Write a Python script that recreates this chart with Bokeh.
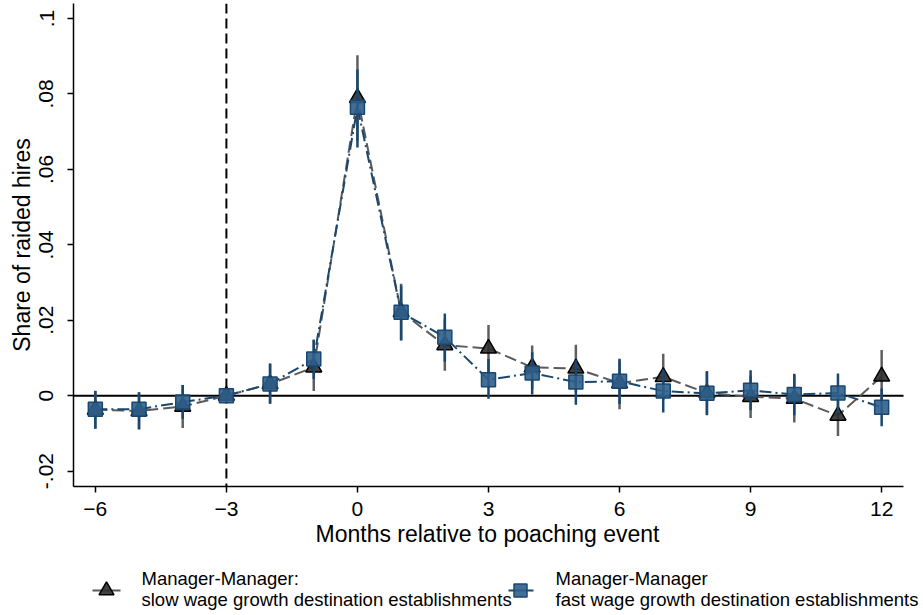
from bokeh.plotting import figure
from bokeh.models import Span, FixedTicker, Range1d, Label, Title
from bokeh.layouts import column
from bokeh.embed import file_html
from bokeh.resources import INLINE

# ---------------- data ----------------
months = [-6, -5, -4, -3, -2, -1, 0, 1, 2, 3, 4, 5, 6, 7, 8, 9, 10, 11, 12]

slow_est = [-0.0037, -0.0041, -0.0029, 0.0, 0.0031, 0.0075, 0.0790, 0.0222, 0.0134, 0.0125,
            0.0075, 0.0072, 0.0033, 0.0050, 0.0007, -0.0003, -0.0008, -0.0053, 0.0051]
slow_lo = [-0.0087, -0.0090, -0.0086, 0.0, -0.0022, 0.0012, 0.0676, 0.0147, 0.0066, 0.0062,
           0.0017, 0.0009, -0.0036, -0.0011, -0.0051, -0.0059, -0.0071, -0.0107, -0.0019]
slow_hi = [0.0013, 0.0008, 0.0028, 0.0, 0.0086, 0.0148, 0.0903, 0.0297, 0.0202, 0.0187,
           0.0133, 0.0135, 0.0093, 0.0111, 0.0065, 0.0053, 0.0055, 0.0001, 0.0121]

fast_est = [-0.0036, -0.0036, -0.0017, 0.0, 0.0031, 0.0097, 0.0765, 0.0221, 0.0155, 0.0042,
            0.0060, 0.0036, 0.0038, 0.0012, 0.0006, 0.0014, 0.0003, 0.0007, -0.0031]
fast_lo = [-0.0088, -0.0089, -0.0062, 0.0, -0.0020, 0.0044, 0.0658, 0.0146, 0.0090, -0.0008,
           0.0003, -0.0024, -0.0022, -0.0045, -0.0052, -0.0039, -0.0052, -0.0045, -0.0081]
fast_hi = [0.0012, 0.0009, 0.0028, 0.0, 0.0084, 0.0148, 0.0865, 0.0292, 0.0218, 0.0097,
           0.0115, 0.0094, 0.0098, 0.0069, 0.0064, 0.0067, 0.0058, 0.0059, 0.0019]

x_ticks = [-6, -3, 0, 3, 6, 9, 12]
y_ticks = [-0.02, 0.0, 0.02, 0.04, 0.06, 0.08, 0.1]
y_tick_labels = ["-.02", "0", ".02", ".04", ".06", ".08", ".1"]

event_month = -3

legend_line1 = ["Manager-Manager:", "Manager-Manager"]
legend_line2 = ["slow wage growth destination establishments",
                "fast wage growth destination establishments"]

x_title = "Months relative to poaching event"
y_title = "Share of raided hires"

# ---------------- style ----------------
FONT = "Liberation Sans"
GRAY_LINE = "#5a5a5a"
GRAY_CI = "#5f5f5f"
TRI_FILL = "#2e2e2e"
BLUE = "#1a476f"
SQ_FILL = "#2f5f8c"

W = 923
X_LO, X_HI = -6.5, 12.5          # extent of the drawn x axis
X_VIEW_HI = 12.958                # frame runs on to the canvas edge (room for legend text)

p = figure(width=W, height=555,
           x_range=Range1d(X_LO, X_VIEW_HI), y_range=Range1d(-0.0241, 0.1040),
           output_backend="svg", toolbar_location=None,
           min_border_left=73, min_border_right=0, min_border_top=3, min_border_bottom=69)
p.outline_line_color = None
p.grid.visible = False
p.background_fill_color = "white"
p.border_fill_color = "white"

# reference lines
p.segment(x0=[X_LO], y0=[0], x1=[X_HI], y1=[0], line_color="black", line_width=2, level="underlay")
p.add_layout(Span(location=event_month, dimension="height", line_color="black", line_width=2,
                  line_dash="10 5", level="underlay"))

# slow series
p.segment(x0=months, y0=slow_lo, x1=months, y1=slow_hi, line_color=GRAY_CI, line_width=2.5)
p.line(months, slow_est, line_color=GRAY_LINE, line_width=2, line_dash="12 5")
p.scatter(months, slow_est, marker="triangle", size=16, fill_color=TRI_FILL, fill_alpha=0.9,
          line_color="black", line_width=1.5)

# fast series
p.segment(x0=months, y0=fast_lo, x1=months, y1=fast_hi, line_color=BLUE, line_width=2.5)
p.line(months, fast_est, line_color=BLUE, line_width=2, line_dash="12 4 2 4")
p.scatter(months, fast_est, marker="square", size=14, fill_color=SQ_FILL, fill_alpha=0.9,
          line_color=BLUE, line_width=1.5)

# axes
p.xaxis.ticker = FixedTicker(ticks=x_ticks)
p.xaxis.bounds = (X_LO, X_HI)
p.yaxis.ticker = FixedTicker(ticks=y_ticks)
p.yaxis.major_label_overrides = {t: l for t, l in zip(y_ticks, y_tick_labels)}
p.yaxis.major_label_orientation = "vertical"
for ax in (p.xaxis, p.yaxis):
    ax.axis_line_color = "black"
    ax.axis_line_width = 1.5
    ax.major_tick_line_color = "black"
    ax.major_tick_line_width = 1.5
    ax.major_tick_out = 6
    ax.major_tick_in = 0
    ax.minor_tick_line_color = None
    ax.major_label_text_font = FONT
    ax.major_label_text_font_size = "21px"
    ax.major_label_text_color = "black"
    ax.axis_label_text_font = FONT
    ax.axis_label_text_font_size = "23px"
    ax.axis_label_text_font_style = "normal"
    ax.axis_label_text_color = "black"
p.yaxis.axis_label = y_title
p.xaxis.major_label_standoff = 9
p.yaxis.major_label_standoff = 14
p.yaxis.axis_label_standoff = 2

# x-axis title, centred under the drawn axis (the frame runs a little further right)
p.add_layout(Title(text=x_title, align="left", offset=242, standoff=1,
                   text_font=FONT, text_font_size="23px", text_font_style="normal",
                   text_color="black"), "below")

# legend panel (its x coordinates equal page pixels)
lf = figure(width=W, height=60, x_range=Range1d(73, W), y_range=Range1d(0, 60),
            output_backend="svg", toolbar_location=None, x_axis_type=None, y_axis_type=None,
            min_border_left=73, min_border_right=0, min_border_top=0, min_border_bottom=0)
lf.outline_line_color = None
lf.grid.visible = False
lf.background_fill_color = "white"
lf.border_fill_color = "white"

sym_y = 25
lf.segment(x0=[92], y0=[sym_y], x1=[120], y1=[sym_y], line_color=GRAY_LINE, line_width=2)
lf.scatter([106], [sym_y], marker="triangle", size=15, fill_color=TRI_FILL, fill_alpha=0.9,
           line_color="black", line_width=1.5)
lf.segment(x0=[508], y0=[sym_y], x1=[533], y1=[sym_y], line_color=BLUE, line_width=2)
lf.scatter([520], [sym_y], marker="square", size=13, fill_color=SQ_FILL, fill_alpha=0.9,
           line_color=BLUE, line_width=1.5)
for lx, t1, t2 in zip([141, 555], legend_line1, legend_line2):
    lf.add_layout(Label(x=lx, y=37, text=t1, text_font=FONT, text_font_size="18.5px",
                        text_baseline="middle", text_align="left", text_color="black"))
    lf.add_layout(Label(x=lx, y=16, text=t2, text_font=FONT, text_font_size="18.5px",
                        text_baseline="middle", text_align="left", text_color="black"))

layout = column(p, lf, spacing=0)
open("out.html", "w").write(file_html(layout, INLINE))
